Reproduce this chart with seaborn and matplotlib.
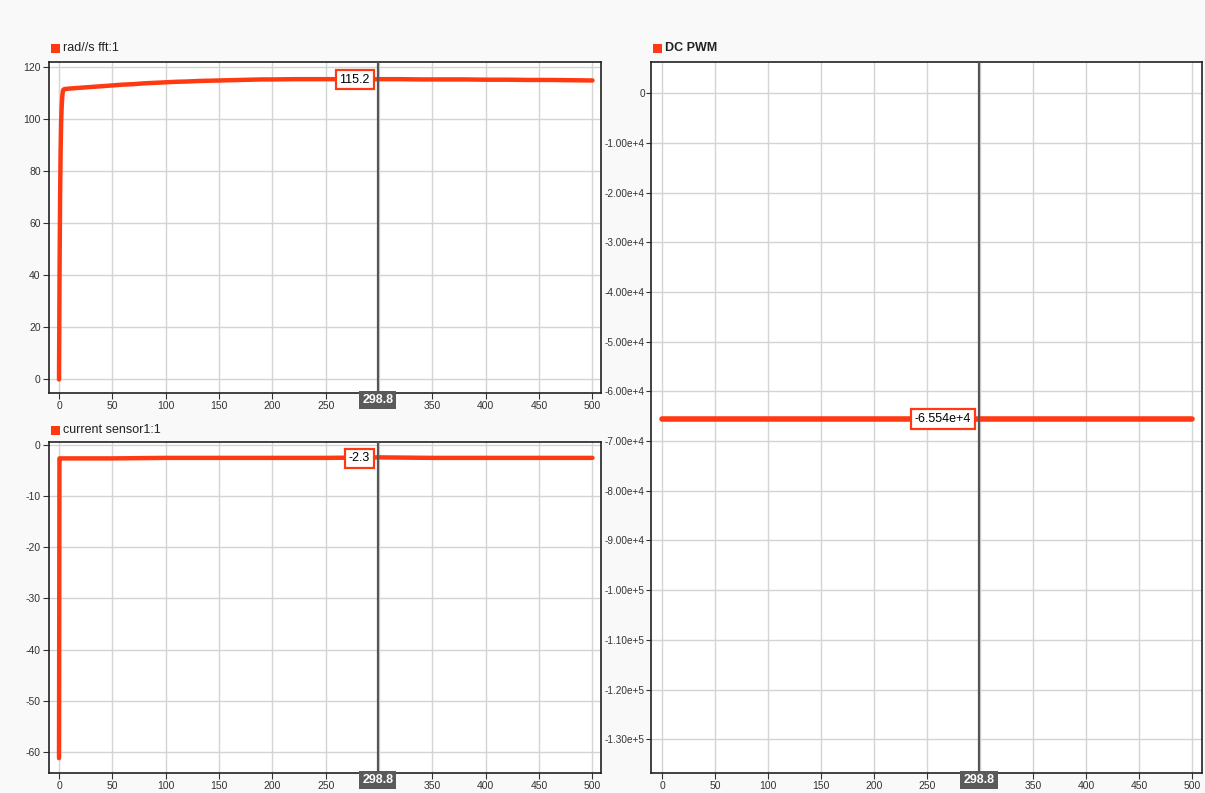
import numpy as np
import pandas as pd
import matplotlib
matplotlib.use("Agg")
import matplotlib.pyplot as plt
import seaborn as sns
from matplotlib.patches import Rectangle

# speed signal (rad/s)
speed_t = [0, 0.5, 1, 1.5, 2, 2.5, 3, 3.5, 4, 5, 10, 20, 30, 40, 50, 60, 70, 80, 90, 100,
           110, 120, 130, 140, 150, 160, 170, 180, 190, 200, 220, 240, 260, 280, 300,
           320, 340, 360, 380, 400, 420, 440, 460, 480, 500]
speed_v = [0, 42, 70, 88, 99, 105, 108.5, 110.5, 111.3, 111.6, 111.8, 112.1, 112.4, 112.7, 113.0,
           113.3, 113.5, 113.8, 114.0, 114.2, 114.4, 114.5, 114.7, 114.8, 114.9, 115.0, 115.1,
           115.2, 115.3, 115.3, 115.4, 115.4, 115.4, 115.3, 115.4, 115.4, 115.3, 115.3, 115.3,
           115.2, 115.2, 115.1, 115.1, 115.0, 114.9]

# current sensor
cur_t = [0, 0.4, 1, 50, 100, 150, 200, 250, 300, 350, 400, 450, 500]
cur_v = [-61.2, -2.7, -2.7, -2.7, -2.6, -2.6, -2.6, -2.6, -2.5, -2.6, -2.6, -2.6, -2.6]

# DC PWM
pwm_t = [0, 500]
pwm_v = [-65540, -65540]

cursor_x = 298.8
cursor_vals = ["115.2", "-2.3", "-6.554e+4"]
cursor_y = [115.2, -2.7, -65540]
titles = ["rad//s fft:1", "current sensor1:1", "DC PWM"]

RED = "#ff3a12"
W, H = 1205, 793

sns.set_theme(style="whitegrid")
plt.rcParams["font.family"] = ["Liberation Sans", "DejaVu Sans"]
plt.rcParams["axes.unicode_minus"] = False

fig = plt.figure(figsize=(W / 100, H / 100), dpi=100)
fig.patch.set_facecolor("#f9f9f9")


def px_axes(l, t, r, b):
    return fig.add_axes([l / W, 1 - b / H, (r - l) / W, (b - t) / H])


def sci_fmt(v, pos=None):
    if v == 0:
        return "0"
    e = int(np.floor(np.log10(abs(v)) + 1e-9))
    m = v / 10 ** e
    return f"{m:.2f}e+{e}"


def x_fmt(v, pos=None):
    # the cursor box covers the 300 label
    return "" if abs(v - 300) < 1e-6 else f"{v:.0f}"


ax1 = px_axes(49, 62, 601, 393)
ax2 = px_axes(49, 442, 601, 773)
ax3 = px_axes(651, 62, 1202, 773)

sns.lineplot(data=pd.DataFrame({"t": speed_t, "v": speed_v}), x="t", y="v", ax=ax1,
             color=RED, linewidth=3.2, estimator=None, sort=False)
sns.lineplot(data=pd.DataFrame({"t": cur_t, "v": cur_v}), x="t", y="v", ax=ax2,
             color=RED, linewidth=3.2, estimator=None, sort=False)
sns.lineplot(data=pd.DataFrame({"t": pwm_t, "v": pwm_v}), x="t", y="v", ax=ax3,
             color=RED, linewidth=4, estimator=None, sort=False)

ax1.set_xlim(-9.4, 508)
ax1.set_ylim(-5.2, 122)
ax1.set_yticks(np.arange(0, 121, 20))
ax2.set_xlim(-9.4, 508)
ax2.set_ylim(-64.1, 0.5)
ax2.set_yticks(np.arange(0, -61, -10))
ax3.set_xlim(-10.4, 509)
ax3.set_ylim(-136800, 6300)
ax3.set_yticks(np.arange(0, -130001, -10000))
ax3.yaxis.set_major_formatter(matplotlib.ticker.FuncFormatter(sci_fmt))

for ax, val, yv in zip([ax1, ax2, ax3], cursor_vals, cursor_y):
    ax.set_facecolor("white")
    ax.set_xticks(np.arange(0, 501, 50))
    ax.xaxis.set_major_formatter(matplotlib.ticker.FuncFormatter(x_fmt))
    ax.set_xlabel("")
    ax.set_ylabel("")
    ax.grid(True, color="#d4d4d4", linewidth=1)
    for s in ax.spines.values():
        s.set_color("#222222")
        s.set_linewidth(1.2)
    ax.tick_params(axis="both", labelsize=7.5, colors="#333333", length=4, width=0.8,
                   direction="out", pad=2, left=True, bottom=True)
    ax.axvline(cursor_x, color="#555555", linewidth=1.6, zorder=3)
    ax.annotate(val, xy=(cursor_x, yv), xytext=(-8, 0), textcoords="offset pixels",
                ha="right", va="center", fontsize=9, color="black", zorder=5,
                bbox=dict(boxstyle="square,pad=0.3", facecolor="white", edgecolor=RED, linewidth=1.6))
    ax.annotate(f"{cursor_x}", xy=(cursor_x, 0), xycoords=ax.get_xaxis_transform(),
                xytext=(0, -1), textcoords="offset pixels", ha="center", va="top",
                fontsize=9, color="white", fontweight="bold", zorder=6, annotation_clip=False,
                bbox=dict(boxstyle="square,pad=0.25", facecolor="#5a5a5a", edgecolor="none"))

# long sci labels on the right panel need a little less room
ax3.tick_params(axis="y", labelsize=7.2, length=3.5, pad=1)

# panel titles with red square marker
for (x, y), title, bold in zip([(51, 48), (51, 430), (653, 48)], titles, [False, False, True]):
    fig.patches.append(Rectangle((x / W, 1 - (y + 4.5) / H), 9 / W, 9 / H,
                                 transform=fig.transFigure, facecolor=RED, edgecolor="none"))
    fig.text((x + 12) / W, 1 - y / H, title, color="#222222", fontsize=9, va="center",
             ha="left", fontweight="bold" if bold else "normal")

fig.savefig("out.png", dpi=100, facecolor=fig.get_facecolor())
